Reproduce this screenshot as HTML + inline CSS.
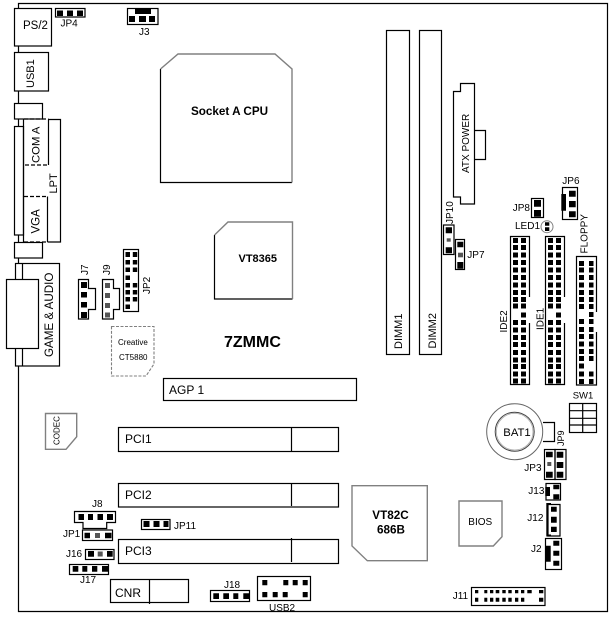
<!DOCTYPE html>
<html>
<head>
<meta charset="utf-8">
<style>
html,body{margin:0;padding:0;background:#fff;width:614px;height:618px;overflow:hidden}
svg{display:block}
text{font-family:"Liberation Sans",sans-serif;fill:#000}
.l{fill:none;stroke:#000;stroke-width:1.2}
.g{fill:none;stroke:#808080;stroke-width:1.4}
.d{fill:none;stroke:#000;stroke-width:1.2;stroke-dasharray:4 2}
.p{fill:#000}
.q{fill:#555}
</style>
</head>
<body>
<svg width="614" height="618" viewBox="0 0 614 618" xmlns="http://www.w3.org/2000/svg">
<defs>
<path id="c1" d="M0 238h5v5h-5zM0 245h5v5h-5zM0 252.500h5v5h-5zM0 260h5v5h-5zM0 267.500h5v5h-5zM0 275h5v5h-5zM0 282.500h5v5h-5zM0 290h5v5h-5zM0 297h5v5h-5zM0 303.500h5v5h-5zM0 320h5v5h-5zM0 327.500h5v5h-5zM0 335h5v5h-5zM0 342h5v5h-5zM0 350h5v5h-5zM0 357.500h5v5h-5zM0 364h5v5h-5zM0 371.500h5v5h-5zM0 378.500h5v5h-5z"/>
<path id="c2" d="M0 312.500h5v5h-5z"/>
</defs>

<!-- board outline -->
<path class="l" d="M18.500 8V3.500H607.500V611.500H18.500V366M18.500 46V52M18.500 91V103M18.500 119V127M18.500 235V242M18.500 258V263.500"/>

<!-- rear I/O -->
<rect class="l" x="14.500" y="8.500" width="37" height="37.500"/>
<rect class="l" x="14.500" y="52.500" width="34" height="38.500"/>
<rect class="l" x="14.500" y="103.500" width="28" height="15.500"/>
<rect class="l" x="14.500" y="126.500" width="9" height="108.500"/>
<path class="l" d="M23.500 119.500V242M48 119.500H60.500V242H47.500M48.500 119.500V165M47.500 196.500V242"/>
<path class="d" d="M24 119H48.500M25 165H48M24 196.500H47.500M24 242H47.500"/>
<rect class="l" x="14.500" y="242.500" width="28" height="15.500"/>
<rect class="l" x="15.500" y="263.500" width="44" height="102.500"/>
<path class="l" d="M22.500 263.500V366"/>
<rect fill="#fff" stroke="#000" stroke-width="1.200" x="6.500" y="279.500" width="32" height="69"/>

<text x="23" y="29" font-size="11.500">PS/2</text>
<text transform="translate(34 88) rotate(-90)" font-size="11">USB1</text>
<text transform="translate(39.500 163) rotate(-90)" font-size="11.300">COM A</text>
<text transform="translate(57 193.500) rotate(-90)" font-size="11">LPT</text>
<text transform="translate(39.500 233.500) rotate(-90)" font-size="11.500">VGA</text>
<text transform="translate(53 357) rotate(-90)" font-size="11.600">GAME &amp; AUDIO</text>

<!-- JP4, J3 -->
<rect class="l" x="55.500" y="8.500" width="29.500" height="8.500"/>
<path class="p" d="M57 10.500h6v5.500h-6zM67 10.500h6v5.500h-6zM77 10.500h6v5.500h-6z"/>
<text x="60.500" y="26.500" font-size="10">JP4</text>
<rect class="l" x="127.500" y="8.500" width="30.500" height="16"/>
<path class="p" d="M135 9h16v5h-16zM129 16h6v6h-6zM139 16h7v6h-7zM149 16h6v6h-6z"/>
<text x="139" y="35" font-size="10">J3</text>

<!-- CPU, north bridge -->
<path class="l" d="M160.500 69V182.500H292"/>
<path class="g" d="M160.500 69L178 54H275L292 69V182.500"/>
<text x="191" y="115" font-size="11.700" font-weight="bold">Socket A CPU</text>
<path class="l" d="M214.500 235V299H292.500"/>
<path class="g" d="M214.500 235L228 222H292.500V299"/>
<text x="238.500" y="262" font-size="11" font-weight="bold">VT8365</text>
<text x="224" y="347" font-size="16" font-weight="bold">7ZMMC</text>

<!-- DIMM, ATX -->
<rect class="l" x="386.500" y="30.500" width="23" height="324"/>
<rect class="l" x="419.500" y="30.500" width="22" height="324"/>
<text transform="translate(402 349) rotate(-90)" font-size="11">DIMM1</text>
<text transform="translate(436 348.500) rotate(-90)" font-size="11">DIMM2</text>
<path class="l" d="M453.500 91.500H460.500V83.500H474.500V204H460.500V197H453.500Z"/>
<path class="l" d="M474.500 130.500H485.500V159.500H474.500"/>
<text transform="translate(469 173) rotate(-90)" font-size="10">ATX POWER</text>

<!-- J7, J9, JP2 -->
<path class="l" d="M78.500 279.500H88.500V288.500H95.500V309.500H88.500V319H78.500Z"/>
<path class="p" d="M81 282h6v6h-6zM81 292h6v5.500h-6zM81 302h6v5.500h-6zM81 312h6v6h-6z"/>
<text transform="translate(88 275) rotate(-90)" font-size="10">J7</text>
<path class="l" d="M102.500 279.500H113.500V288.500H119.500V309.500H113.500V319H102.500Z"/>
<path class="q" d="M105 283h5v5h-5zM105 293h5v5h-5zM105 303h5v5h-5zM105 312.500h5v5h-5z"/>
<text transform="translate(110 275) rotate(-90)" font-size="10">J9</text>
<rect class="l" x="123.500" y="249.500" width="15" height="62"/>
<path class="p" d="M125.500 252h4.500v5h-4.500zM132.800 252h4.400v5h-4.400zM125.500 260h4.500v4.500h-4.500zM132.800 260h4.400v4.500h-4.400zM125.500 267.500h4.500v4.500h-4.500zM132.800 267.500h4.400v4.500h-4.400zM125.500 275.500h4.500v4.500h-4.500zM125.500 283h4.500v4.500h-4.500zM132.800 283h4.400v4.500h-4.400zM125.500 290h4.500v4.500h-4.500zM132.800 290h4.400v4.500h-4.400zM125.500 297h4.500v4.500h-4.500zM132.800 297h4.400v4.500h-4.400zM125.500 304.500h4.500v4.500h-4.500z"/>
<text transform="translate(150 294) rotate(-90)" font-size="10">JP2</text>

<!-- Creative -->
<path class="g" stroke-dasharray="3 1.500" d="M111.500 326.500H154V364L146 376H111.500Z" style="stroke-width:1.100"/>
<text x="118" y="345" font-size="8">Creative</text>
<text x="119" y="360" font-size="8">CT5880</text>

<!-- slots -->
<rect class="l" x="163.500" y="378.500" width="193" height="22"/>
<text x="169" y="394" font-size="12">AGP 1</text>
<rect class="l" x="118.500" y="427.500" width="220" height="24"/>
<path class="l" d="M291.500 427.500V451.500"/>
<text x="125" y="443" font-size="12">PCI1</text>
<rect class="l" x="118.500" y="483.500" width="220" height="23.500"/>
<path class="l" d="M291.500 483.500V506"/>
<text x="125" y="499" font-size="12">PCI2</text>
<rect class="l" x="118.500" y="539.500" width="220" height="24"/>
<path class="l" d="M291.500 538V562"/>
<text x="125" y="555" font-size="12">PCI3</text>
<rect class="l" x="110.500" y="579.500" width="78" height="23"/>
<path class="l" d="M149.500 579.500V604"/>
<text x="115" y="597" font-size="12">CNR</text>

<!-- CODEC -->
<path class="g" d="M45.500 413.500H76.700V436.700L66 449.300H45.500Z"/>
<text transform="translate(59.500 445) rotate(-90)" font-size="8">CODEC</text>

<!-- bottom-left headers -->
<path class="l" d="M74.500 511.500H115.500V522.500H106.700V528.500H83V522.500H74.500Z"/>
<path class="p" d="M78.500 514h5.500v6h-5.500zM88 514h5v6h-5zM97.500 514h5.500v6h-5.500zM107 514h6v6h-6z"/>
<text x="92" y="507" font-size="10">J8</text>
<rect class="l" x="82.500" y="530" width="30" height="10.500"/>
<path class="p" d="M84.500 532.700h5.500v5.600h-5.500zM105 532.700h6.500v5.600h-6.500z"/>
<path class="q" d="M95 533h5v5h-5z"/>
<text x="63" y="537" font-size="10">JP1</text>
<rect class="l" x="141.500" y="519.500" width="28.500" height="10"/>
<path class="p" d="M143.500 521h6v6h-6zM153.500 521h6v6h-6zM163.500 521h5v6h-5z"/>
<text x="174" y="529" font-size="10">JP11</text>
<rect class="l" x="85.500" y="549.500" width="28.500" height="10"/>
<path class="p" d="M88 551h6v5.700h-6zM107 551h5.700v5.700h-5.700z"/>
<path class="q" d="M97.700 551.500h5v5h-5z"/>
<text x="66" y="557" font-size="10">J16</text>
<rect class="l" x="69.500" y="564.500" width="39" height="10"/>
<path class="p" d="M72.700 566h5.600v5.700h-5.600zM82.300 566h5v5.700h-5zM92 566h5.300v5.700h-5.300zM102 566h6v5.700h-6z"/>
<text x="80" y="583" font-size="10">J17</text>
<rect class="l" x="210.500" y="590.500" width="39" height="11"/>
<path class="p" d="M213.300 593.300h5.700v5.700h-5.700zM223.300 593.300h5.700v5.700h-5.700zM233.300 593.300h5v5.700h-5zM243.300 593.300h5.700v5.700h-5.700z"/>
<text x="224" y="588" font-size="10">J18</text>
<rect class="l" x="257.500" y="576.500" width="53" height="24"/>
<path class="p" d="M262.300 580h5v5.300h-5zM283.300 580h5v5.300h-5zM292.700 580h5v5.300h-5zM302.700 580h5v5.300h-5zM262.300 592h5v5.300h-5zM272.700 592h5v5.300h-5zM282.700 592h5v5.300h-5zM302.700 592h5v5.300h-5z"/>
<text x="269" y="611" font-size="10">USB2</text>

<!-- south bridge, BIOS -->
<path class="g" d="M352 485.700H427.300V560.700H367.300L352 546Z"/>
<text x="372.300" y="519" font-size="11.700" font-weight="bold">VT82C</text>
<text x="377" y="533.500" font-size="11.700" font-weight="bold">686B</text>
<path class="g" d="M459 501H502V536.700L493.300 546H459Z"/>
<text x="468.300" y="525" font-size="10">BIOS</text>

<!-- JP10, JP7, JP8, JP6, LED1 -->
<rect class="l" x="443.500" y="225" width="10.500" height="29.500"/>
<path class="p" d="M445.700 227.300h6.300v6h-6.300zM445.700 247.300h6.300v6h-6.300z"/>
<path class="q" d="M446.700 238.300h4v3.400h-4z"/>
<text transform="translate(453 224) rotate(-90)" font-size="10">JP10</text>
<rect class="l" x="455.500" y="239.500" width="9" height="30"/>
<path class="p" d="M457.300 241.700h6v5.600h-6zM457.300 262h6v6.700h-6z"/>
<path class="q" d="M458 252.700h5v4.600h-5z"/>
<text x="467.300" y="258" font-size="10">JP7</text>
<rect class="l" x="531.500" y="198.500" width="12" height="19"/>
<path class="p" d="M534 200h7v6.700h-7zM534 210h7v6.700h-7z"/>
<text x="512.700" y="211" font-size="10">JP8</text>
<rect class="l" x="562.500" y="187.500" width="15" height="32"/>
<path class="p" d="M569 190.700h6.700v6h-6.700zM569 201h6.700v6.300h-6.700zM569 211.300h6.700v6h-6.700zM561.300 194h4.700v16.700h-4.700z"/>
<text x="562.300" y="184" font-size="10">JP6</text>
<text x="515" y="229" font-size="10">LED1</text>
<circle class="g" cx="547" cy="226.700" r="6" style="stroke-width:1"/>
<path class="p" d="M545 222.300h4.300v3.400h-4.300zM545 227.300h4.300v3.700h-4.300z"/>

<!-- IDE2 -->
<path class="l" d="M529.500 297V236.500H510.500V384.500H529.500V323"/>
<use href="#c1" x="513" class="p"/>
<use href="#c1" x="521" class="p"/>
<use href="#c2" x="521" class="p"/>
<text transform="translate(507 332.500) rotate(-90)" font-size="10">IDE2</text>

<!-- IDE1 -->
<path class="l" d="M564.500 297V236.500H545.500V384.500H564.500V323"/>
<use href="#c1" x="548" class="p"/>
<use href="#c1" x="556" class="p"/>
<use href="#c2" x="556" class="p"/>
<text transform="translate(543.500 330) rotate(-90)" font-size="10">IDE1</text>

<!-- FLOPPY -->
<path class="l" d="M596.500 312V256.500H576.500V385H596.500V332"/>
<path class="p" d="M579 261h5v5h-5zM579 267.500h5v5h-5zM579 275h5v5h-5zM579 282.500h5v5h-5zM579 290h5v5h-5zM579 297h5v5h-5zM579 304h5v5h-5zM579 319h5v5h-5zM579 327h5v5h-5zM579 334h5v5h-5zM579 341.500h5v5h-5zM579 349h5v5h-5zM579 356h5v5h-5zM579 363.500h5v5h-5zM579 371.500h5v5h-5zM579 379h5v5h-5z"/>
<path class="p" d="M589 261h4.500v5h-4.500zM589 267.500h4.500v5h-4.500zM589 275h4.500v5h-4.500zM589 282.500h4.500v5h-4.500zM589 290h4.500v5h-4.500zM589 297h4.500v5h-4.500zM589 304h4.500v5h-4.500zM589 312h4.500v5h-4.500zM589 319h4.500v5h-4.500zM589 327h4.500v5h-4.500zM589 334h4.500v5h-4.500zM589 341.500h4.500v5h-4.500zM589 349h4.500v5h-4.500zM589 356h4.500v5h-4.500zM589 371.500h4.500v5h-4.500zM589 379h4.500v5h-4.500z"/>
<text transform="translate(587.500 253.500) rotate(-90)" font-size="10">FLOPPY</text>

<!-- SW1 -->
<text x="572.700" y="398.500" font-size="9.500">SW1</text>
<rect class="l" x="569.500" y="403.500" width="27" height="29"/>
<path class="l" d="M582.700 403.500V432.500M569.500 410.700H596.500M569.500 418.300H596.500M569.500 425H596.500"/>

<!-- BAT1 -->
<path class="l" d="M543 422.500H554.500V441.500H543"/>
<circle cx="514.700" cy="431.700" r="28" fill="#fff" stroke="#666" stroke-width="1"/>
<circle cx="514.700" cy="431.700" r="19.500" fill="none" stroke="#444" stroke-width="1"/>
<circle cx="514.700" cy="431.700" r="18.300" fill="none" stroke="#aaa" stroke-width="0.800"/>
<text x="503.300" y="436" font-size="11.300">BAT1</text>

<!-- JP3, JP9 -->
<rect class="l" x="544.500" y="449.500" width="10.500" height="30"/>
<rect class="l" x="555" y="449.500" width="11" height="30"/>
<path class="p" d="M546 451.700h6.700v5.600h-6.700zM546 471.700h6.700v6h-6.700zM556.700 451.700h6.600v6h-6.600zM556.700 462h6.600v6h-6.600zM556.700 471.700h6.600v6h-6.600z"/>
<path class="q" d="M547.300 462h4v4h-4z"/>
<text x="524.300" y="471" font-size="10">JP3</text>
<text transform="translate(564 446) rotate(-90)" font-size="9">JP9</text>

<!-- J13, J12, J2 -->
<rect class="l" x="546" y="483.500" width="14.500" height="16.500"/>
<path class="p" d="M545.300 487h4.700v9h-4.700zM553.300 484.700h6v4.600h-6zM553.300 494.300h6v5h-6z"/>
<text x="528.300" y="494" font-size="10">J13</text>
<path class="l" d="M548 504.500H560V536H548Z"/>
<path class="l" style="stroke-width:2" d="M551 504H547.300V535.500H551"/>
<path class="p" d="M551 506.700h5.700v5h-5.700zM551 516.700h5.700v6h-5.700zM551 526.700h5.700v5.300h-5.700z"/>
<text x="527.300" y="521" font-size="10">J12</text>
<rect class="l" x="545.500" y="538.500" width="16" height="31"/>
<path class="p" d="M553.300 540.700h6v5h-6zM553.300 550.700h6v5h-6zM553.300 560.700h6v5h-6zM545.300 545.700h5.400v16h-5.400z"/>
<text x="531" y="552" font-size="10">J2</text>

<!-- J11 -->
<rect class="l" x="471.500" y="587.500" width="73.500" height="18"/>
<path class="p" d="M475 590h3.300v3.300h-3.300zM484.300 590h3v3.300h-3zM490 590h3.300v3.300h-3.300zM495.700 590h3.600v3.300h-3.600zM502.300 590h3.400v3.300h-3.400zM508.300 590h3.400v3.300h-3.400zM515 590h3.300v3.300h-3.300zM521 590h3.300v3.300h-3.300zM527.300 590h4.400v3.300h-4.400zM539 590h4.300v3.300h-4.300z"/>
<path class="p" d="M475 597.700h3.300v4h-3.300zM484.300 597.700h3v4h-3zM490 597.700h3.300v4h-3.300zM495.700 597.700h3.600v4h-3.600zM502.300 597.700h3.400v4h-3.400zM508.300 597.700h3.400v4h-3.400zM515 597.700h3.300v4h-3.300zM521 597.700h3.300v4h-3.300zM539 597.700h4.300v4h-4.300z"/>
<text x="452.700" y="599" font-size="10">J11</text>
</svg>
</body>
</html>
